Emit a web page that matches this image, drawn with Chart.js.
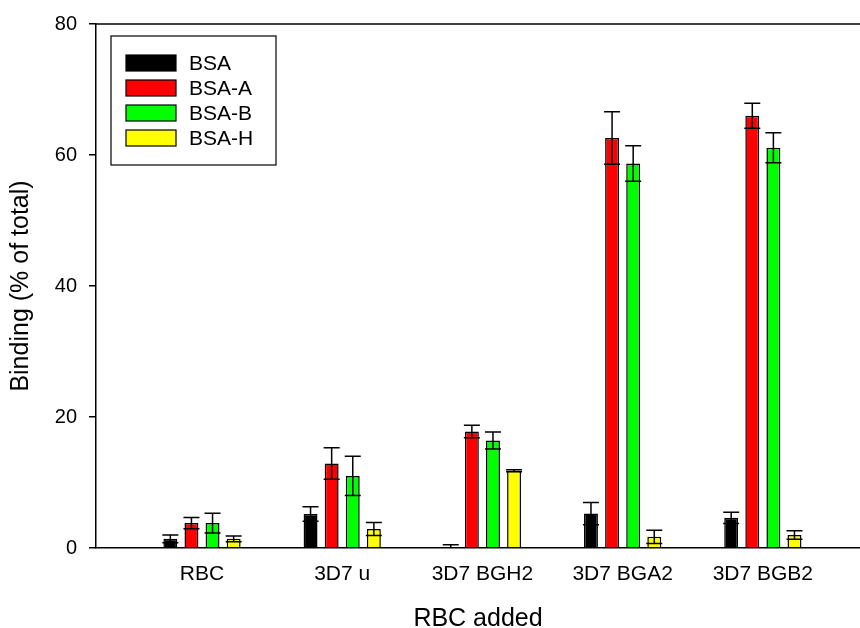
<!DOCTYPE html>
<html>
<head>
<meta charset="utf-8">
<script src="https://cdn.jsdelivr.net/npm/chart.js@4.4.1/dist/chart.umd.min.js"></script>
<style>
  html, body { margin: 0; padding: 0; background: #fff; }
</style>
</head>
<body>
<canvas id="bindingChart" width="860" height="628"></canvas>
<script>
// data
var categories = ['RBC', '3D7 u', '3D7 BGH2', '3D7 BGA2', '3D7 BGB2'];
var seriesNames = ['BSA', 'BSA-A', 'BSA-B', 'BSA-H'];
var seriesColors = ['#000000', '#ff0000', '#00ff00', '#ffff00'];

var bsa = [1.4, 5.2, 0, 5.25, 4.6];
var bsaErr = [0.6, 1.1, 0.5, 1.7, 0.85];
var bsaA = [3.8, 12.9, 17.8, 62.6, 66.0];
var bsaAErr = [0.85, 2.4, 0.95, 4.0, 1.9];
var bsaB = [3.8, 11.0, 16.4, 58.7, 61.1];
var bsaBErr = [1.5, 3.0, 1.3, 2.7, 2.3];
var bsaH = [1.4, 2.9, 11.8, 1.7, 2.0];
var bsaHErr = [0.45, 1.0, 0.15, 1.0, 0.65];

var yTicks = [0, 20, 40, 60, 80];

var values = [bsa, bsaA, bsaB, bsaH];
var errors = [bsaErr, bsaAErr, bsaBErr, bsaHErr];

var font = 'Liberation Sans, Arial, sans-serif';

var datasets = [];
for (var s = 0; s < seriesNames.length; s++) {
    var pts = [];
    for (var i = 0; i < categories.length; i++) {
        pts.push({ x: i + 1, y: values[s][i] });
    }
    datasets.push({
        label: seriesNames[s],
        data: pts,
        errors: errors[s],
        backgroundColor: seriesColors[s],
        borderColor: '#000000',
        borderWidth: 1.5,
        categoryPercentage: 0.602,
        barPercentage: 0.66
    });
}

// error bars with caps at both ends
var errorBars = {
    id: 'errorBars',
    afterDatasetsDraw: function (chart) {
        var ctx = chart.ctx;
        var y = chart.scales.y;
        ctx.save();
        ctx.strokeStyle = '#000';
        ctx.lineWidth = 1.5;
        chart.data.datasets.forEach(function (ds, di) {
            var meta = chart.getDatasetMeta(di);
            meta.data.forEach(function (bar, i) {
                var v = ds.data[i].y, e = ds.errors[i];
                var top = y.getPixelForValue(v + e);
                var bot = y.getPixelForValue(Math.max(0, v - e));
                var half = 8;
                ctx.beginPath();
                ctx.moveTo(bar.x, top);
                ctx.lineTo(bar.x, bot);
                ctx.moveTo(bar.x - half, top);
                ctx.lineTo(bar.x + half, top);
                if (v - e > 0) {
                    ctx.moveTo(bar.x - half, bot);
                    ctx.lineTo(bar.x + half, bot);
                }
                ctx.stroke();
            });
        });
        ctx.restore();
    }
};

// top frame line and boxed legend
var frameAndLegend = {
    id: 'frameAndLegend',
    afterDraw: function (chart) {
        var ctx = chart.ctx;
        var a = chart.chartArea;
        ctx.save();
        ctx.strokeStyle = '#000';
        ctx.lineWidth = 1.5;
        ctx.beginPath();
        ctx.moveTo(a.left, a.top);
        ctx.lineTo(chart.width, a.top);
        ctx.stroke();

        ctx.lineWidth = 1.2;
        ctx.strokeRect(111, 36, 165, 129);
        ctx.font = '21px ' + font;
        ctx.textBaseline = 'middle';
        chart.data.datasets.forEach(function (ds, i) {
            var cy = 63 + i * 25;
            ctx.fillStyle = ds.backgroundColor;
            ctx.fillRect(126, cy - 8, 50, 16);
            ctx.strokeRect(126, cy - 8, 50, 16);
            ctx.fillStyle = '#000';
            ctx.fillText(ds.label, 189, cy + 1);
        });
        ctx.restore();
    }
};

new Chart(document.getElementById('bindingChart'), {
    type: 'bar',
    data: { datasets: datasets },
    options: {
        responsive: false,
        animation: false,
        layout: { padding: { top: 22, right: 0, left: 0, bottom: 0 } },
        plugins: {
            legend: { display: false },
            tooltip: { enabled: false }
        },
        scales: {
            x: {
                type: 'linear',
                offset: false,
                min: 0.244,
                max: 5.693,
                afterFit: function (scale) { scale.height = 80; },
                afterBuildTicks: function (scale) {
                    scale.ticks = categories.map(function (c, i) { return { value: i + 1 }; });
                },
                grid: { display: false, drawTicks: false },
                border: { display: true, color: '#000', width: 1.5 },
                ticks: {
                    color: '#000',
                    padding: 14,
                    maxRotation: 0,
                    autoSkip: false,
                    font: { family: font, size: 21 },
                    callback: function (v) { return categories[v - 1]; }
                },
                title: {
                    display: true,
                    text: 'RBC added',
                    color: '#000',
                    padding: { top: 0, bottom: -6 },
                    font: { family: font, size: 25 }
                }
            },
            y: {
                min: 0,
                max: 80,
                afterFit: function (scale) { scale.width = 96; },
                afterBuildTicks: function (scale) {
                    scale.ticks = yTicks.map(function (t) { return { value: t }; });
                },
                grid: { display: true, drawOnChartArea: false, drawTicks: true, tickLength: 7, color: '#000', lineWidth: 1.5 },
                border: { display: true, color: '#000', width: 1.5 },
                ticks: {
                    color: '#000',
                    padding: 12,
                    font: { family: font, size: 20 }
                },
                title: {
                    display: true,
                    text: 'Binding (% of total)',
                    color: '#000',
                    padding: { top: 6, bottom: 0 },
                    font: { family: font, size: 25 }
                }
            }
        }
    },
    plugins: [errorBars, frameAndLegend]
});
</script>
</body>
</html>
